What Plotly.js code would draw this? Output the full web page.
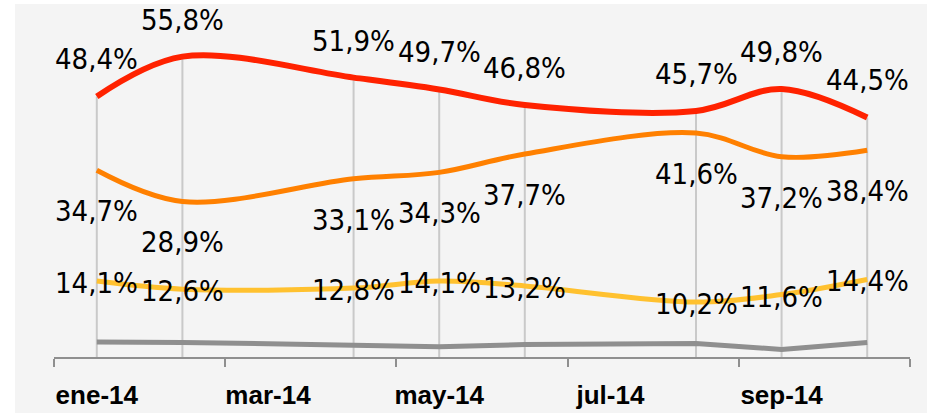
<!DOCTYPE html>
<html>
<head>
<meta charset="utf-8">
<script src="https://cdn.plot.ly/plotly-3.0.1.min.js"></script>
<style>
html,body{margin:0;padding:0;background:#ffffff;}
#chart{position:absolute;left:15px;top:4px;width:912px;height:409px;}
</style>
</head>
<body>
<div id="chart"></div>
<script>
// month number (2014) of each survey point
var months = [1, 2, 4, 5, 6, 8, 9, 10];
var tickMonths = [1, 3, 5, 7, 9];
var tickLabels = ['ene-14', 'mar-14', 'may-14', 'jul-14', 'sep-14'];

var seriesRed    = [48.4, 55.8, 51.9, 49.7, 46.8, 45.7, 49.8, 44.5];
var seriesOrange = [34.7, 28.9, 33.1, 34.3, 37.7, 41.6, 37.2, 38.4];
var seriesYellow = [14.1, 12.6, 12.8, 14.1, 13.2, 10.2, 11.6, 14.4];
var seriesGray   = [2.8, 2.7, 2.2, 1.9, 2.3, 2.5, 1.4, 2.7];

function fmt(v){ return v.toFixed(1).replace('.', ',') + '%'; }

// drop lines from axis to red series
var dropX = [], dropY = [];
months.forEach(function(m, i){ dropX.push(m, m, null); dropY.push(0, seriesRed[i], null); });

var traces = [
  {x: dropX, y: dropY, mode: 'lines', line: {color: '#c9c9c9', width: 2}, hoverinfo: 'skip'},
  {x: months, y: seriesGray, mode: 'lines', line: {color: '#8f8f8f', width: 5}},
  {x: months, y: seriesYellow, mode: 'lines', line: {color: '#ffc12f', width: 5, shape: 'spline', smoothing: 1}},
  {x: months, y: seriesOrange, mode: 'lines', line: {color: '#ff8000', width: 5, shape: 'spline', smoothing: 1}},
  {x: months, y: seriesRed, mode: 'lines', line: {color: '#ff2200', width: 6, shape: 'spline', smoothing: 1}}
];

var labelFont = {family: 'DejaVu Sans Condensed, Tahoma, sans-serif', size: 29, color: '#000000'};
var annotations = [];
function addLabels(vals, shift){
  months.forEach(function(m, i){
    annotations.push({x: m, y: vals[i], xref: 'x', yref: 'y', text: fmt(vals[i]),
      showarrow: false, yshift: shift, font: labelFont, xanchor: 'center', yanchor: 'middle'});
  });
}
addLabels(seriesRed, 37);
addLabels(seriesOrange, -41);
addLabels(seriesYellow, -2);

var layout = {
  width: 912, height: 409,
  margin: {l: 39, r: 17, t: 30, b: 56},
  paper_bgcolor: '#f4f4f4',
  plot_bgcolor: '#f4f4f4',
  showlegend: false,
  xaxis: {
    type: 'linear', range: [0.5, 10.5],
    showgrid: false, zeroline: false,
    showline: true, linecolor: '#8f8f8f', linewidth: 2,
    tickmode: 'array', tickvals: tickMonths, ticktext: tickLabels, ticks: '',
    tickfont: {family: 'Liberation Sans, Arial, sans-serif', size: 26, color: '#000000', weight: 'bold'},
    ticklabelstandoff: 14,
    minor: {tickmode: 'linear', tick0: 0.5, dtick: 2, ticks: 'outside', ticklen: 8, tickwidth: 2, tickcolor: '#8f8f8f', showgrid: false}
  },
  yaxis: {
    range: [0, 60], visible: false, showgrid: false, zeroline: false
  },
  annotations: annotations
};

Plotly.newPlot('chart', traces, layout, {displayModeBar: false, staticPlot: true});
</script>
</body>
</html>
